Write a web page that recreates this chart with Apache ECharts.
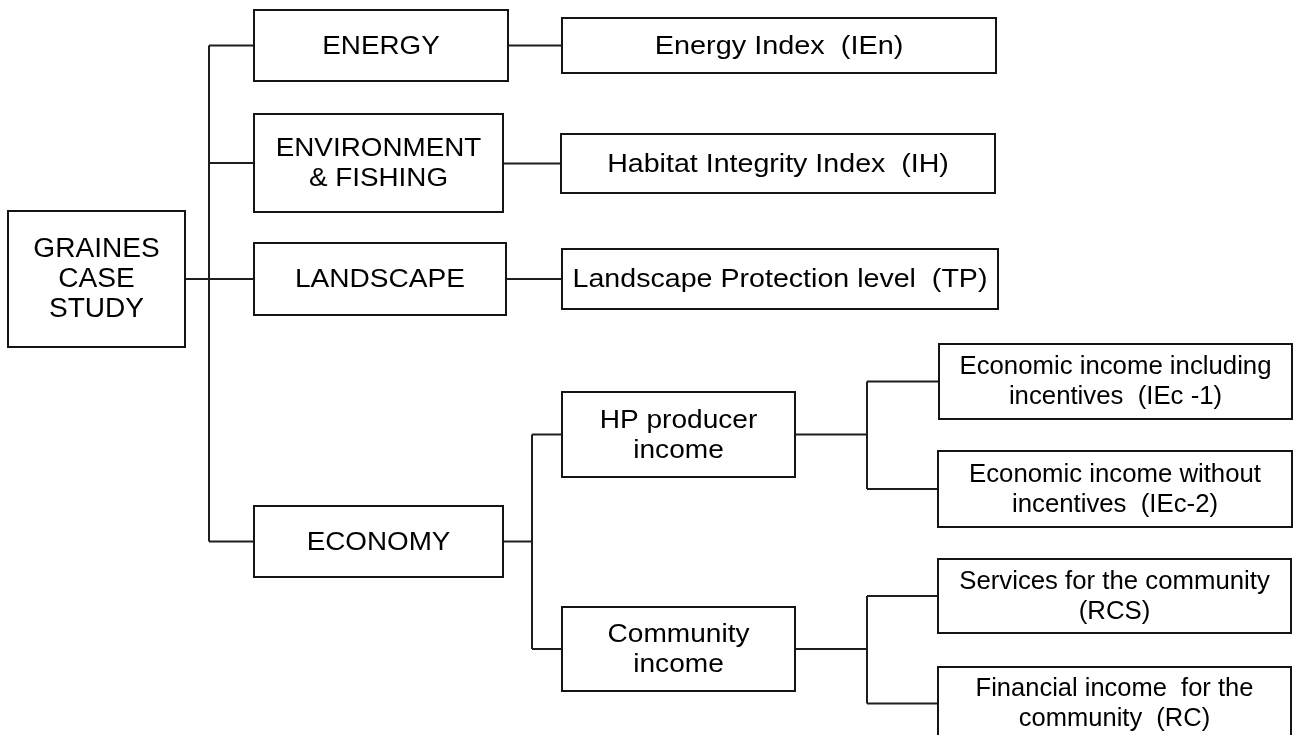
<!DOCTYPE html>
<html>
<head>
<meta charset="utf-8">
<script src="https://cdn.jsdelivr.net/npm/echarts@6/dist/echarts.min.js"></script>
<style>
  html, body { margin: 0; padding: 0; background: #ffffff; }
  #chart { width: 1293px; height: 735px; }
</style>
</head>
<body>
<div id="chart"></div>
<script>
// ---- Diagram content ----
const nodeLabels = [
  'GRAINES\nCASE\nSTUDY',
  'ENERGY',
  'ENVIRONMENT\n& FISHING',
  'LANDSCAPE',
  'ECONOMY',
  'Energy Index  (IEn)',
  'Habitat Integrity Index  (IH)',
  'Landscape Protection level  (TP)',
  'HP producer\nincome',
  'Community\nincome',
  'Economic income including\nincentives  (IEc -1)',
  'Economic income without\nincentives  (IEc-2)',
  'Services for the community\n(RCS)',
  'Financial income  for the\ncommunity  (RC)'
];
// index of each node's parent (-1 = root)
const nodeParents = [-1, 0, 0, 0, 0, 1, 2, 3, 4, 4, 8, 8, 9, 9];

// ---- Layout (diagram units = pixels of the hidden axes) ----
const boxLeft   = [8,   254, 254, 254, 254, 562, 561, 562, 562, 562, 939, 938, 938, 938];
const boxTop    = [211, 10,  114, 243, 506, 18,  134, 249, 392, 607, 344, 451, 559, 667];
const boxRight  = [185, 508, 503, 506, 503, 996, 995, 998, 795, 795, 1292, 1292, 1291, 1291];
const boxBottom = [347, 81,  212, 315, 577, 73,  193, 309, 477, 691, 419, 527, 633, 740];
// x of the vertical connector trunk for parents with several children
const forkX = { 0: 209, 4: 532, 8: 867, 9: 867 };
// ---- Text styling ----
const labelFontSize = [27, 26, 26, 26, 26, 26, 26, 26, 26, 26, 25, 25, 25, 25];
const labelScaleX   = [1.04, 1.07, 1.07, 1.08, 1.07, 1.11, 1.10, 1.10, 1.08, 1.08, 1.03, 1.03, 1.03, 1.02];

const FONT = '"Liberation Sans", Arial, sans-serif';

const nodeData = nodeLabels.map((l, i) => [boxLeft[i], boxTop[i], boxRight[i], boxBottom[i], i]);
const parentIds = [...new Set(nodeParents.filter(p => p >= 0))];
const edgeData = parentIds.map(p => [boxRight[p], (boxTop[p] + boxBottom[p]) / 2, p]);

const cy = i => (boxTop[i] + boxBottom[i]) / 2;

const chart = echarts.init(document.getElementById('chart'), null, { renderer: 'canvas' });
chart.setOption({
  animation: false,
  backgroundColor: '#ffffff',
  grid: { left: 0, right: 0, top: 0, bottom: 0 },
  xAxis: { type: 'value', min: 0, max: 1293, show: false },
  yAxis: { type: 'value', min: 0, max: 735, inverse: true, show: false },
  series: [
    {
      type: 'custom',
      name: 'connectors',
      coordinateSystem: 'cartesian2d',
      clip: false,
      data: edgeData,
      encode: { x: 0, y: 1 },
      renderItem: function (params, api) {
        const p = api.value(2);
        const kids = nodeParents.map((q, i) => q === p ? i : -1).filter(i => i >= 0);
        const children = [];
        const lineStyle = { stroke: '#1e1e1e', lineWidth: 2, fill: null };
        const pc = cy(p);
        if (kids.length === 1) {
          const k = kids[0];
          const a = api.coord([boxRight[p], cy(k)]);
          const b = api.coord([boxLeft[k], cy(k)]);
          children.push({ type: 'polyline', shape: { points: [a, b] }, style: lineStyle });
        } else {
          const fx = forkX[p];
          children.push({ type: 'polyline', shape: { points: [api.coord([boxRight[p], pc]), api.coord([fx, pc])] }, style: lineStyle });
          const ys = kids.map(cy);
          children.push({ type: 'polyline', shape: { points: [api.coord([fx, Math.min(...ys)]), api.coord([fx, Math.max(...ys)])] }, style: lineStyle });
          kids.forEach(k => {
            children.push({ type: 'polyline', shape: { points: [api.coord([fx, cy(k)]), api.coord([boxLeft[k], cy(k)])] }, style: lineStyle });
          });
        }
        return { type: 'group', children: children };
      },
      z: 1
    },
    {
      type: 'custom',
      name: 'boxes',
      coordinateSystem: 'cartesian2d',
      clip: false,
      data: nodeData,
      encode: { x: [0, 2], y: [1, 3] },
      renderItem: function (params, api) {
        const i = api.value(4);
        const tl = api.coord([api.value(0), api.value(1)]);
        const br = api.coord([api.value(2), api.value(3)]);
        return {
          type: 'group',
          children: [
            {
              type: 'rect',
              shape: { x: tl[0], y: tl[1], width: br[0] - tl[0], height: br[1] - tl[1] },
              style: { fill: '#ffffff', stroke: '#141414', lineWidth: 2 }
            },
            {
              type: 'text',
              x: (tl[0] + br[0]) / 2,
              y: (tl[1] + br[1]) / 2 + 1,
              scaleX: labelScaleX[i],
              style: {
                text: nodeLabels[i],
                fill: '#000000',
                font: labelFontSize[i] + 'px ' + FONT,
                lineHeight: 30,
                align: 'center',
                verticalAlign: 'middle'
              }
            }
          ]
        };
      },
      z: 2
    }
  ]
});
</script>
</body>
</html>
